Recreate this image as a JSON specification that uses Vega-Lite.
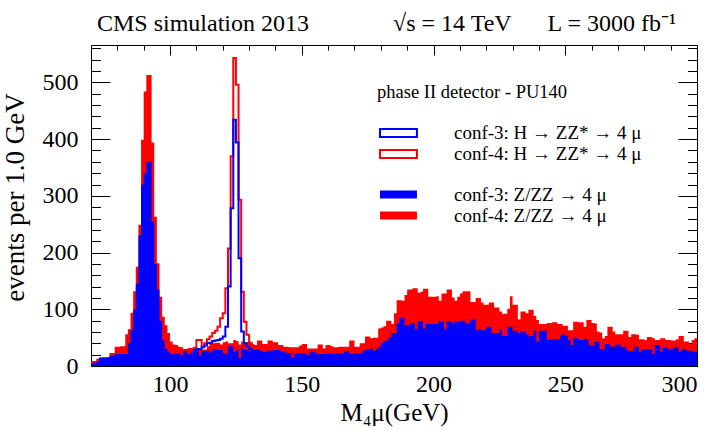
{
  "$schema": "https://vega.github.io/schema/vega-lite/v6.json",
  "width": 606,
  "height": 321,
  "autosize": {"type": "none"},
  "padding": {"left": 91, "top": 45, "right": 18, "bottom": 70},
  "background": "white",
  "title": {
    "text": "CMS simulation 2013\u00a0\u00a0\u00a0\u00a0\u00a0\u00a0\u00a0\u00a0\u00a0\u00a0\u00a0\u00a0\u00a0\u00a0√s = 14 TeV\u00a0\u00a0\u00a0\u00a0\u00a0\u00a0L = 3000 fb⁻¹",
    "anchor": "start",
    "frame": "group",
    "dx": 6,
    "dy": 22,
    "offset": 12,
    "baseline": "alphabetic",
    "limit": 0,
    "font": "Liberation Serif",
    "fontSize": 24,
    "fontWeight": "normal",
    "color": "black"
  },
  "config": {
    "view": {"stroke": "black", "strokeWidth": 1},
    "font": "Liberation Serif",
    "axis": {
      "grid": false,
      "domain": false,
      "tickColor": "black",
      "tickWidth": 1,
      "labelColor": "black",
      "titleColor": "black",
      "labelFont": "Liberation Serif",
      "titleFont": "Liberation Serif",
      "titleFontWeight": "normal"
    },
    "legend": {
      "labelFont": "Liberation Serif",
      "titleFont": "Liberation Serif",
      "labelColor": "black",
      "titleColor": "black",
      "padding": 0,
      "labelLimit": 0,
      "titleLimit": 0
    }
  },
  "datasets": {
    "bg": [
      {"m":70,"r":9,"b":5},{"m":71,"r":9,"b":6},{"m":72,"r":13,"b":8},{"m":73,"r":14,"b":15},{"m":74,"r":15,"b":15},
      {"m":75,"r":15,"b":15},{"m":76,"r":16,"b":15},{"m":77,"r":23,"b":18},{"m":78,"r":23,"b":18},{"m":79,"r":34,"b":21},
      {"m":80,"r":34,"b":21},{"m":81,"r":35,"b":21},{"m":82,"r":35,"b":21},{"m":83,"r":56,"b":21},{"m":84,"r":65,"b":40},
      {"m":85,"r":94,"b":63},{"m":86,"r":132,"b":99},{"m":87,"r":175,"b":145},{"m":88,"r":249,"b":230},{"m":89,"r":399,"b":320},
      {"m":90,"r":484,"b":340},{"m":91,"r":513,"b":360},{"m":92,"r":513,"b":360},{"m":93,"r":394,"b":255},{"m":94,"r":263,"b":180},
      {"m":95,"r":181,"b":135},{"m":96,"r":122,"b":80},{"m":97,"r":87,"b":45},{"m":98,"r":72,"b":31},{"m":99,"r":58,"b":25},
      {"m":100,"r":43,"b":21},{"m":101,"r":38,"b":22},{"m":102,"r":37,"b":22},{"m":103,"r":34,"b":22},{"m":104,"r":33,"b":19},
      {"m":105,"r":28,"b":25},{"m":106,"r":28,"b":19},{"m":107,"r":30,"b":19},{"m":108,"r":30,"b":22},{"m":109,"r":30,"b":25},
      {"m":110,"r":26,"b":31},{"m":111,"r":29,"b":19},{"m":112,"r":29,"b":27},{"m":113,"r":29,"b":27},{"m":114,"r":35,"b":27},
      {"m":115,"r":40,"b":24},{"m":116,"r":40,"b":29},{"m":117,"r":41,"b":29},{"m":118,"r":41,"b":28},{"m":119,"r":38,"b":28},
      {"m":120,"r":42,"b":22},{"m":121,"r":43,"b":22},{"m":122,"r":40,"b":35},{"m":123,"r":40,"b":35},{"m":124,"r":46,"b":25},
      {"m":125,"r":44,"b":28},{"m":126,"r":38,"b":14},{"m":127,"r":43,"b":31},{"m":128,"r":42,"b":28},{"m":129,"r":42,"b":28},
      {"m":130,"r":41,"b":27},{"m":131,"r":37,"b":27},{"m":132,"r":37,"b":29},{"m":133,"r":45,"b":29},{"m":134,"r":45,"b":27},
      {"m":135,"r":39,"b":25},{"m":136,"r":39,"b":25},{"m":137,"r":45,"b":27},{"m":138,"r":45,"b":27},{"m":139,"r":42,"b":28},
      {"m":140,"r":42,"b":28},{"m":141,"r":37,"b":28},{"m":142,"r":37,"b":25},{"m":143,"r":34,"b":25},{"m":144,"r":34,"b":23},
      {"m":145,"r":33,"b":23},{"m":146,"r":33,"b":15},{"m":147,"r":33,"b":21},{"m":148,"r":33,"b":22},{"m":149,"r":36,"b":22},
      {"m":150,"r":39,"b":22},{"m":151,"r":39,"b":22},{"m":152,"r":31,"b":19},{"m":153,"r":31,"b":25},{"m":154,"r":31,"b":25},
      {"m":155,"r":31,"b":22},{"m":156,"r":38,"b":21},{"m":157,"r":38,"b":21},{"m":158,"r":31,"b":21},{"m":159,"r":37,"b":22},
      {"m":160,"r":37,"b":22},{"m":161,"r":35,"b":21},{"m":162,"r":33,"b":21},{"m":163,"r":33,"b":22},{"m":164,"r":34,"b":22},
      {"m":165,"r":34,"b":22},{"m":166,"r":34,"b":26},{"m":167,"r":34,"b":26},{"m":168,"r":45,"b":21},{"m":169,"r":45,"b":21},
      {"m":170,"r":34,"b":22},{"m":171,"r":34,"b":22},{"m":172,"r":40,"b":22},{"m":173,"r":40,"b":27},{"m":174,"r":52,"b":29},
      {"m":175,"r":52,"b":29},{"m":176,"r":49,"b":31},{"m":177,"r":50,"b":27},{"m":178,"r":50,"b":30},{"m":179,"r":66,"b":34},
      {"m":180,"r":68,"b":41},{"m":181,"r":70,"b":44},{"m":182,"r":80,"b":45},{"m":183,"r":80,"b":51},{"m":184,"r":74,"b":58},
      {"m":185,"r":93,"b":58},{"m":186,"r":116,"b":76},{"m":187,"r":116,"b":85},{"m":188,"r":115,"b":85},{"m":189,"r":125,"b":72},
      {"m":190,"r":135,"b":72},{"m":191,"r":135,"b":76},{"m":192,"r":137,"b":76},{"m":193,"r":137,"b":65},{"m":194,"r":129,"b":79},
      {"m":195,"r":131,"b":79},{"m":196,"r":136,"b":66},{"m":197,"r":136,"b":74},{"m":198,"r":122,"b":74},{"m":199,"r":122,"b":74},
      {"m":200,"r":122,"b":74},{"m":201,"r":123,"b":74},{"m":202,"r":115,"b":78},{"m":203,"r":128,"b":78},{"m":204,"r":128,"b":65},
      {"m":205,"r":135,"b":79},{"m":206,"r":135,"b":79},{"m":207,"r":121,"b":75},{"m":208,"r":115,"b":78},{"m":209,"r":122,"b":78},
      {"m":210,"r":128,"b":80},{"m":211,"r":132,"b":80},{"m":212,"r":132,"b":75},{"m":213,"r":132,"b":75},{"m":214,"r":113,"b":82},
      {"m":215,"r":113,"b":82},{"m":216,"r":120,"b":63},{"m":217,"r":120,"b":65},{"m":218,"r":112,"b":63},{"m":219,"r":108,"b":63},
      {"m":220,"r":108,"b":69},{"m":221,"r":112,"b":69},{"m":222,"r":112,"b":58},{"m":223,"r":103,"b":58},{"m":224,"r":103,"b":58},
      {"m":225,"r":96,"b":63},{"m":226,"r":92,"b":53},{"m":227,"r":92,"b":53},{"m":228,"r":101,"b":69},{"m":229,"r":123,"b":69},
      {"m":230,"r":108,"b":62},{"m":231,"r":108,"b":62},{"m":232,"r":82,"b":58},{"m":233,"r":96,"b":61},{"m":234,"r":96,"b":61},
      {"m":235,"r":93,"b":56},{"m":236,"r":99,"b":52},{"m":237,"r":99,"b":53},{"m":238,"r":88,"b":62},{"m":239,"r":81,"b":43},
      {"m":240,"r":74,"b":62},{"m":241,"r":74,"b":62},{"m":242,"r":74,"b":62},{"m":243,"r":76,"b":46},{"m":244,"r":76,"b":47},
      {"m":245,"r":77,"b":47},{"m":246,"r":77,"b":47},{"m":247,"r":74,"b":47},{"m":248,"r":74,"b":55},{"m":249,"r":71,"b":55},
      {"m":250,"r":71,"b":53},{"m":251,"r":63,"b":46},{"m":252,"r":63,"b":37},{"m":253,"r":78,"b":49},{"m":254,"r":78,"b":49},
      {"m":255,"r":77,"b":46},{"m":256,"r":77,"b":46},{"m":257,"r":69,"b":47},{"m":258,"r":81,"b":47},{"m":259,"r":81,"b":37},
      {"m":260,"r":76,"b":37},{"m":261,"r":75,"b":43},{"m":262,"r":61,"b":43},{"m":263,"r":59,"b":30},{"m":264,"r":49,"b":30},
      {"m":265,"r":53,"b":39},{"m":266,"r":69,"b":39},{"m":267,"r":69,"b":34},{"m":268,"r":61,"b":34},{"m":269,"r":56,"b":38},
      {"m":270,"r":56,"b":38},{"m":271,"r":56,"b":34},{"m":272,"r":62,"b":34},{"m":273,"r":62,"b":28},{"m":274,"r":51,"b":26},
      {"m":275,"r":56,"b":26},{"m":276,"r":56,"b":34},{"m":277,"r":55,"b":34},{"m":278,"r":47,"b":25},{"m":279,"r":47,"b":29},
      {"m":280,"r":46,"b":29},{"m":281,"r":51,"b":29},{"m":282,"r":51,"b":29},{"m":283,"r":49,"b":21},{"m":284,"r":46,"b":37},
      {"m":285,"r":46,"b":37},{"m":286,"r":49,"b":25},{"m":287,"r":49,"b":32},{"m":288,"r":46,"b":32},{"m":289,"r":46,"b":29},
      {"m":290,"r":45,"b":29},{"m":291,"r":45,"b":33},{"m":292,"r":47,"b":33},{"m":293,"r":53,"b":25},{"m":294,"r":53,"b":29},
      {"m":295,"r":43,"b":29},{"m":296,"r":43,"b":27},{"m":297,"r":39,"b":27},{"m":298,"r":46,"b":25},{"m":299,"r":49,"b":25},
      {"m":300,"r":49,"b":25}
    ],
    "sig": [
      {"m":105,"hr":28,"hb":25},{"m":106,"hr":28,"hb":19},{"m":107,"hr":30,"hb":19},{"m":108,"hr":30,"hb":22},{"m":109,"hr":32,"hb":28},
      {"m":110,"hr":46,"hb":30},{"m":111,"hr":46,"hb":30},{"m":112,"hr":34,"hb":33},{"m":113,"hr":40,"hb":36},{"m":114,"hr":47,"hb":40},
      {"m":115,"hr":52,"hb":41},{"m":116,"hr":58,"hb":44},{"m":117,"hr":62,"hb":45},{"m":118,"hr":69,"hb":46},{"m":119,"hr":84,"hb":48},
      {"m":120,"hr":93,"hb":52},{"m":121,"hr":137,"hb":69},{"m":122,"hr":207,"hb":140},{"m":123,"hr":370,"hb":278},{"m":124,"hr":543,"hb":434},
      {"m":125,"hr":496,"hb":394},{"m":126,"hr":293,"hb":190},{"m":127,"hr":131,"hb":61},{"m":128,"hr":78,"hb":40},{"m":129,"hr":55,"hb":35},
      {"m":130,"hr":41,"hb":30},{"m":131,"hr":37,"hb":27},{"m":132,"hr":37,"hb":27}
    ]
  },
  "layer": [
    {
      "data": {"name": "bg"},
      "mark": {"type": "area", "interpolate": "step-after", "opacity": 1, "fillOpacity": 1},
      "encoding": {
        "x": {"field": "m", "type": "quantitative",
          "scale": {"domain": [70, 300], "nice": false, "zero": false},
          "axis": {"orient": "bottom", "values": [100, 150, 200, 250, 300], "tickSize": -10,
            "labelPadding": 16, "labelFontSize": 24, "title": "M₄μ(GeV)", "titleFontSize": 25, "titlePadding": 4}},
        "y": {"field": "r", "type": "quantitative", "stack": null,
          "scale": {"domain": [0, 566], "nice": false},
          "axis": {"orient": "left", "values": [0, 100, 200, 300, 400, 500], "tickSize": -19,
            "labelPadding": 32, "labelFontSize": 24, "title": "events per 1.0 GeV", "titleFontSize": 27,
            "titlePadding": 13, "titleY": 152}},
        "fill": {"datum": "conf-4: Z/ZZ → 4 μ", "type": "nominal",
          "scale": {"domain": ["conf-3: Z/ZZ → 4 μ", "conf-4: Z/ZZ → 4 μ"], "range": ["#0000ff", "#ff0000"]},
          "legend": {"orient": "none", "legendX": 286, "legendY": 140, "title": null,
            "symbolType": "M-0.9,-0.55H4.2V0.55H-0.9Z", "symbolSize": 210, "symbolStrokeWidth": 0,
            "labelOffset": 58, "labelFontSize": 19, "rowPadding": 1}}
      }
    },
    {
      "data": {"name": "bg"},
      "mark": {"type": "area", "interpolate": "step-after", "opacity": 1, "fillOpacity": 1},
      "encoding": {
        "x": {"field": "m", "type": "quantitative",
          "axis": {"orient": "bottom", "values": [70,80,90,100,110,120,130,140,150,160,170,180,190,200,210,220,230,240,250,260,270,280,290,300],
            "tickSize": -5, "labels": false, "title": null}},
        "y": {"field": "b", "type": "quantitative", "stack": null,
          "axis": {"orient": "left", "values": [0,20,40,60,80,100,120,140,160,180,200,220,240,260,280,300,320,340,360,380,400,420,440,460,480,500,520,540,560],
            "tickSize": -9.5, "labels": false, "title": null}},
        "fill": {"datum": "conf-3: Z/ZZ → 4 μ", "type": "nominal"}
      }
    },
    {
      "data": {"name": "sig"},
      "mark": {"type": "line", "interpolate": "step-after", "strokeWidth": 2},
      "encoding": {
        "x": {"field": "m", "type": "quantitative",
          "axis": {"orient": "top", "values": [100, 150, 200, 250, 300], "tickSize": -10, "labels": false, "title": null}},
        "y": {"field": "hr", "type": "quantitative",
          "axis": {"orient": "right", "values": [0, 100, 200, 300, 400, 500], "tickSize": -19, "labels": false, "title": null}},
        "stroke": {"datum": "conf-4: H → ZZ* → 4 μ", "type": "nominal",
          "scale": {"domain": ["conf-3: H → ZZ* → 4 μ", "conf-4: H → ZZ* → 4 μ"], "range": ["#0000ff", "#ff0000"]},
          "legend": {"orient": "none", "legendX": 286, "legendY": 38, "title": "phase II detector - PU140",
            "titleFontSize": 18.5, "titleFontWeight": "normal", "titlePadding": 22,
            "symbolType": "M-0.9,-0.55H4.2V0.55H-0.9Z", "symbolSize": 210, "symbolStrokeWidth": 2, "symbolFillColor": "white",
            "labelOffset": 58, "labelFontSize": 19, "rowPadding": 1}}
      }
    },
    {
      "data": {"name": "sig"},
      "mark": {"type": "line", "interpolate": "step-after", "strokeWidth": 2},
      "encoding": {
        "x": {"field": "m", "type": "quantitative",
          "axis": {"orient": "top", "values": [70,80,90,100,110,120,130,140,150,160,170,180,190,200,210,220,230,240,250,260,270,280,290,300],
            "tickSize": -5, "labels": false, "title": null}},
        "y": {"field": "hb", "type": "quantitative",
          "axis": {"orient": "right", "values": [0,20,40,60,80,100,120,140,160,180,200,220,240,260,280,300,320,340,360,380,400,420,440,460,480,500,520,540,560],
            "tickSize": -9.5, "labels": false, "title": null}},
        "stroke": {"datum": "conf-3: H → ZZ* → 4 μ", "type": "nominal"}
      }
    }
  ],
  "resolve": {"axis": {"x": "independent", "y": "independent"}}
}
